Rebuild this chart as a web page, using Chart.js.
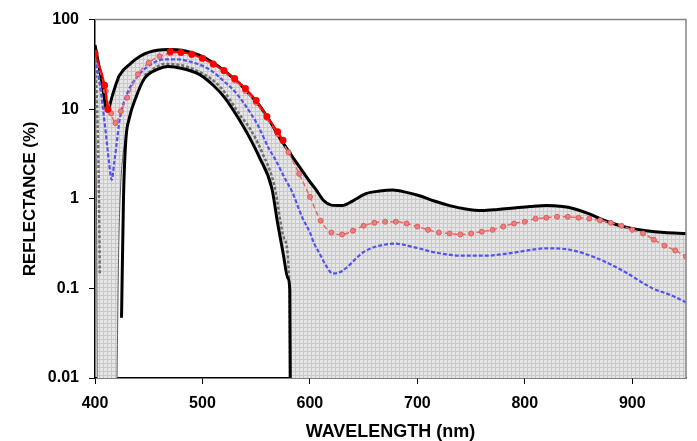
<!DOCTYPE html>
<html>
<head>
<meta charset="utf-8">
<script src="https://cdn.jsdelivr.net/npm/chart.js@4.4.1/dist/chart.umd.min.js"></script>
<style>
  html, body { margin: 0; padding: 0; background: #ffffff; }
  #c { display: block; }
</style>
</head>
<body>
<canvas id="c" width="697" height="441"></canvas>
<script>
// ---------- DATA ----------
const xTickValues = [400, 500, 600, 700, 800, 900];
const yTickValues = [0.01, 0.1, 1, 10, 100];
const yTickLabels = ['0.01', '0.1', '1', '10', '100'];
const xTitle = 'WAVELENGTH (nm)';
const yTitle = 'REFLECTANCE (%)';

// shaded envelope (upper edge = thick black curve)
const bandWl   = [400, 401.5, 402.5, 406, 411.5, 416, 419.5, 420.5, 422, 424, 426, 428.5, 432, 437, 446, 458, 468, 481, 497, 510, 521, 535, 542, 553, 564.5, 570, 575, 579.5, 581.3, 582.5, 590, 600, 605, 613, 620, 630, 640, 652, 665, 677, 690, 702, 715, 730, 745, 760, 775, 790, 805, 820, 835, 845, 860, 870, 882, 895, 913, 930, 950];
const bandHigh = [52, 42, 36, 21.5, 9.5, 14, 19, 20.5, 23, 25, 27, 29, 31.5, 35.5, 41.5, 45.5, 46.5, 45.5, 40, 33, 26.5, 19, 15.5, 11, 6.8, 5.2, 4.2, 3.5, 3.3, 3.1, 2.3, 1.55, 1.3, 0.95, 0.85, 0.84, 0.95, 1.14, 1.22, 1.25, 1.18, 1.08, 0.95, 0.84, 0.77, 0.74, 0.76, 0.79, 0.82, 0.84, 0.82, 0.78, 0.68, 0.60, 0.53, 0.48, 0.44, 0.42, 0.41];
const bandLow  = [40, 0.5, 0.001, 0.001, 0.001, 0.001, 0.001, 0.01, 0.25, 1.5, 3.0, 5.0, 8, 12.5, 22, 27.8, 30, 28.5, 24.5, 18.5, 13.3, 7.4, 5.3, 2.9, 1.32, 0.53, 0.25, 0.13, 0.095, 0.001, 0.001, 0.001, 0.001, 0.001, 0.001, 0.001, 0.001, 0.001, 0.001, 0.001, 0.001, 0.001, 0.001, 0.001, 0.001, 0.001, 0.001, 0.001, 0.001, 0.001, 0.001, 0.001, 0.001, 0.001, 0.001, 0.001, 0.001, 0.001, 0.001];

// thick black lower curve
const lowerBlackWl = [424.7, 426.5, 428.5, 432, 437, 446, 458, 468, 481, 497, 510, 521, 535, 542, 553, 564.5, 570, 575, 579.5, 581.3, 582];
const lowerBlack   = [0.047, 1.0, 4.2, 8, 12.5, 22, 27.8, 30, 28.5, 24.5, 18.5, 13.3, 7.4, 5.3, 2.9, 1.32, 0.53, 0.25, 0.13, 0.095, 0.001];

// grey dashed curve
const greyWl = [400, 402, 403.5, 404.5, 430, 446, 465, 488, 516, 535, 546, 556, 567, 576, 581, 582];
const grey   = [40, 10, 1.5, 0.14, null, 24, 32, 29, 18, 8.6, 5.6, 3.2, 1.4, 0.36, 0.1, 0.001];

// blue dashed curve
const blueWl = [400, 405, 410, 413, 415.5, 418, 420, 423, 430, 440, 452, 465, 477, 490, 500, 510, 520, 530, 540, 551, 562, 567, 578, 583, 593, 600, 604, 609, 615, 621, 627, 634, 641, 649, 657, 665, 679, 696, 718, 742, 764, 789, 820, 842, 866, 891, 919, 935, 950];
const blue   = [37, 17, 5.5, 2.6, 1.63, 2.6, 4, 7.7, 15, 23.5, 31.6, 36, 36, 33.5, 30.5, 26, 20.5, 15.8, 11, 6.8, 3.6, 2.86, 1.58, 1.23, 0.615, 0.42, 0.316, 0.245, 0.18, 0.147, 0.15, 0.17, 0.205, 0.25, 0.28, 0.30, 0.316, 0.29, 0.25, 0.232, 0.232, 0.25, 0.28, 0.27, 0.22, 0.158, 0.10, 0.085, 0.07];

// pale red dashed curve with markers
const pinkWl = [400, 410, 415, 419, 424, 430, 440, 450, 460, 470, 480, 490, 500, 510, 520, 530, 540, 550, 560, 570, 580, 590, 600, 610, 620, 630, 640, 650, 660, 670, 680, 690, 700, 710, 720, 730, 740, 750, 760, 770, 780, 790, 800, 810, 820, 830, 840, 850, 860, 870, 880, 890, 900, 910, 920, 930, 940, 950];
const pink   = [40, 16, 9, 7, 9.5, 13.5, 24.5, 33, 39, 42, 43, 40, 36.5, 31.5, 26.5, 21, 16, 11.8, 8, 5.3, 3.3, 1.9, 1.05, 0.57, 0.42, 0.40, 0.44, 0.50, 0.54, 0.555, 0.555, 0.53, 0.49, 0.45, 0.42, 0.41, 0.40, 0.41, 0.43, 0.45, 0.49, 0.53, 0.555, 0.60, 0.615, 0.63, 0.63, 0.615, 0.60, 0.575, 0.54, 0.50, 0.45, 0.41, 0.35, 0.30, 0.265, 0.227];

// bright red solid curve with markers
const redWl = [400, 409, 412, 440, 470, 480, 490, 500, 510, 520, 530, 540, 550, 560, 570, 575];
const red   = [42, 18.5, 10, null, 44, 43, 41, 37, 32, 27, 22, 17, 12.5, 8.3, 5.6, 4.5];

// ---------- helpers ----------
const pts = (xs, ys) => xs.map((x, i) => ({ x: x, y: ys[i] }));

function makePattern() {
  const p = document.createElement('canvas');
  p.width = 4; p.height = 4;
  const g = p.getContext('2d');
  g.fillStyle = '#e6e6e6';
  g.fillRect(0, 0, 4, 4);
  g.fillStyle = '#c9c9c9';
  g.fillRect(3, 0, 1, 4);
  g.fillRect(0, 3, 4, 1);
  return document.getElementById('c').getContext('2d').createPattern(p, 'repeat');
}

const frame = {
  id: 'frame',
  afterDraw(chart) {
    const a = chart.chartArea, ctx = chart.ctx;
    ctx.save();
    ctx.strokeStyle = '#858585';
    ctx.lineWidth = 1.5;
    ctx.beginPath();
    ctx.moveTo(a.left, a.top);
    ctx.lineTo(a.right, a.top);
    ctx.lineTo(a.right, a.bottom);
    ctx.stroke();
    ctx.restore();
  }
};

const tickFont = { family: "'Liberation Sans', Arial, sans-serif", size: 16, weight: 'bold' };
const xTitleFont = { family: "'Liberation Sans', Arial, sans-serif", size: 18, weight: 'bold', lineHeight: 1 };
const yTitleFont = { family: "'Liberation Sans', Arial, sans-serif", size: 16.8, weight: 'bold', lineHeight: 1 };

new Chart(document.getElementById('c'), {
  type: 'line',
  data: {
    datasets: [
      { // 0: envelope upper edge (thick black) with fill down to dataset 1
        data: pts(bandWl, bandHigh), borderColor: '#000', borderWidth: 3,
        backgroundColor: makePattern(), fill: 1, pointRadius: 0,
        cubicInterpolationMode: 'monotone', order: 10
      },
      { // 1: envelope lower edge (thin outline)
        data: pts(bandWl, bandLow), borderColor: '#5a5a5a', borderWidth: 1,
        fill: false, pointRadius: 0, cubicInterpolationMode: 'monotone', order: 9
      },
      { // 2: grey dashed
        data: pts(greyWl, grey), borderColor: '#6e6e6e', borderWidth: 2.5,
        borderDash: [3, 2], fill: false, pointRadius: 0, spanGaps: false,
        cubicInterpolationMode: 'monotone', order: 8
      },
      { // 3: lower black
        data: pts(lowerBlackWl, lowerBlack), borderColor: '#000', borderWidth: 3,
        fill: false, pointRadius: 0, cubicInterpolationMode: 'monotone', order: 7
      },
      { // 4: blue dashed
        data: pts(blueWl, blue), borderColor: '#5353ec', borderWidth: 2.2,
        borderDash: [4, 2], fill: false, pointRadius: 0,
        cubicInterpolationMode: 'monotone', order: 6
      },
      { // 5: pale red with markers
        data: pts(pinkWl, pink), borderColor: '#e46a6a', borderWidth: 1.5,
        borderDash: [5, 3], fill: false, pointRadius: 2.5, pointStyle: 'circle',
        pointBackgroundColor: '#ea8080', pointBorderColor: '#e05a5a', pointBorderWidth: 1,
        cubicInterpolationMode: 'monotone', order: 5
      },
      { // 6: bright red with markers
        data: pts(redWl, red), borderColor: '#ff0000', borderWidth: 2,
        fill: false, pointRadius: 2.5, pointBackgroundColor: '#ff0000', pointBorderColor: '#ff0000',
        spanGaps: false, cubicInterpolationMode: 'monotone', order: 4
      }
    ]
  },
  options: {
    responsive: false,
    animation: false,
    events: [],
    layout: { padding: { left: 0, right: 11, top: 18, bottom: 0 } },
    plugins: { legend: { display: false }, tooltip: { enabled: false } },
    scales: {
      x: {
        type: 'linear', min: 400, max: 950,
        afterBuildTicks: s => { s.ticks = xTickValues.map(v => ({ value: v })); },
        ticks: { font: tickFont, color: '#000', padding: 10, maxRotation: 0, autoSkip: false,
                 callback: v => String(v) },
        grid: { display: true, drawOnChartArea: false, drawTicks: true, tickLength: 6, color: '#000', lineWidth: 1 },
        border: { display: true, color: '#000', width: 1.5 },
        title: { display: true, text: xTitle, font: xTitleFont, color: '#000', padding: { top: 0, bottom: 0 } },
        afterFit: s => { s.height = 63; }
      },
      y: {
        type: 'logarithmic', min: 0.01, max: 100,
        afterBuildTicks: s => { s.ticks = yTickValues.map(v => ({ value: v })); },
        ticks: { font: tickFont, color: '#000', padding: 10, autoSkip: false,
                 callback: (v) => { const i = yTickValues.indexOf(v); return i >= 0 ? yTickLabels[i] : ''; } },
        grid: { display: true, drawOnChartArea: false, drawTicks: true, tickLength: 6, color: '#000', lineWidth: 1 },
        border: { display: true, color: '#000', width: 1.5 },
        title: { display: true, text: yTitle, font: yTitleFont, color: '#000', padding: { top: 22, bottom: 0 } },
        afterFit: s => { s.width = 95; }
      }
    }
  },
  plugins: [frame]
});
</script>
</body>
</html>
